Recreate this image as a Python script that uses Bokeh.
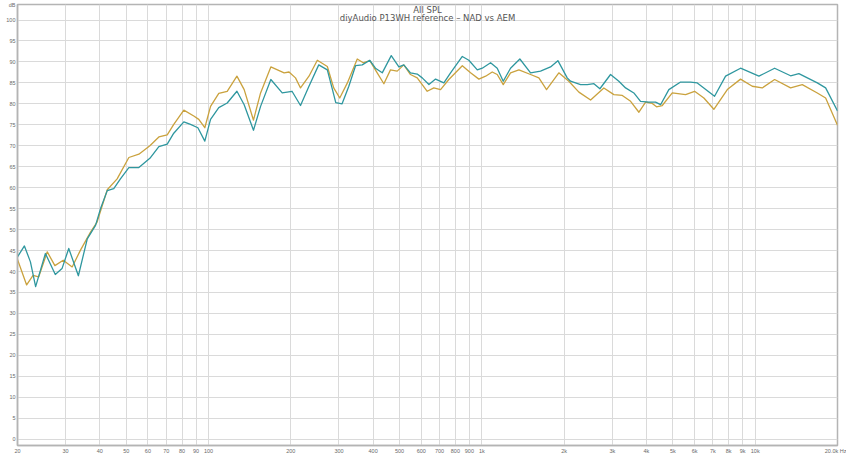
import math
from bokeh.plotting import figure
from bokeh.models import Range1d, FixedTicker, Label
from bokeh.embed import file_html
from bokeh.resources import INLINE

# ---- data ----
freq_nad = [20, 21.2, 22.3, 23.3, 25.3, 27.5, 29.1, 30.8, 33.4, 36.0, 38.6, 40.2, 42.6, 45.0, 47.6,
            51.1, 55.6, 61.0, 65.8, 70.6, 74.6, 81.2, 85.9, 91.4, 96.9, 101.7, 109, 117, 127, 135,
            146, 155, 169, 186, 202, 217, 233, 253, 272, 284, 292, 308, 326, 345, 365, 389, 408,
            432, 466, 497, 518, 548, 580, 605, 640, 677, 726, 768, 848, 896, 962, 1003, 1076,
            1138, 1197, 1273, 1377, 1507, 1639, 1783, 1897, 2052, 2110, 2296, 2430, 2570, 2702,
            2956, 3170, 3355, 3597, 3806, 4083, 4320, 4506, 4831, 5333, 5802, 6138, 7100, 7791,
            8838, 10316, 11776, 13470, 14444, 16874, 18098, 20000]
spl_nad = [43.5, 46.1, 42.3, 36.4, 44.3, 39.3, 40.7, 45.5, 39.0, 47.8, 51.0, 54.9, 59.3, 59.8, 62.1,
           64.8, 64.8, 67.0, 69.8, 70.4, 73.0, 75.7, 75.1, 74.3, 71.1, 76.3, 79.1, 80.2, 83.0, 79.8,
           73.7, 79.4, 85.8, 82.6, 83.0, 79.6, 84.2, 89.3, 88.1, 83.4, 80.3, 80.0, 84.2, 89.1, 89.3,
           90.4, 88.5, 87.4, 91.5, 88.8, 89.3, 87.4, 87.1, 86.2, 84.6, 85.9, 85.0, 87.4, 91.3, 90.4,
           88.1, 88.5, 89.8, 88.5, 85.4, 88.5, 90.7, 87.4, 87.8, 88.8, 90.3, 86.2, 85.4, 84.6, 84.6,
           84.8, 83.6, 87.0, 85.4, 83.8, 82.6, 80.6, 80.4, 80.4, 79.8, 83.4, 85.2, 85.2, 85.0, 81.8,
           86.6, 88.5, 86.6, 88.5, 86.7, 87.2, 85.0, 83.8, 78.3]

freq_aem = [20, 21.6, 22.8, 23.9, 25.7, 27.4, 29.4, 31.7, 34.0, 37.0, 39.1, 42.6, 46.3, 51.1, 55.6,
            61.0, 65.8, 70.6, 74.6, 81.2, 88.3, 92.1, 96.9, 101.7, 109, 117, 127, 135, 146, 155,
            169, 189, 197, 208, 217, 233, 250, 272, 287, 302, 322, 350, 368, 389, 414, 438, 463,
            490, 518, 548, 580, 631, 667, 706, 757, 848, 909, 975, 1032, 1091, 1138, 1197, 1273,
            1366, 1507, 1616, 1724, 1912, 2080, 2264, 2499, 2794, 3040, 3264, 3500, 3754, 3972,
            4202, 4355, 4570, 4972, 5562, 6000, 6488, 7058, 7906, 8838, 9755, 10610, 11776, 13470,
            14866, 16874, 18098, 20000]
spl_aem = [42.9, 36.8, 39.1, 38.7, 44.7, 41.4, 42.7, 41.1, 45.1, 49.4, 51.8, 59.5, 62.1, 67.2, 68.0,
           70.0, 72.1, 72.6, 75.1, 78.5, 77.1, 76.3, 74.3, 79.4, 82.5, 83.0, 86.6, 83.4, 76.1, 82.6,
           88.8, 87.4, 87.6, 86.2, 83.8, 86.6, 90.4, 88.9, 83.8, 81.4, 85.0, 90.7, 89.8, 90.3, 87.4,
           84.8, 88.1, 87.8, 89.3, 87.0, 86.2, 83.0, 83.8, 83.4, 85.8, 89.1, 87.4, 85.9, 86.6, 87.6,
           87.0, 84.6, 87.4, 88.1, 87.0, 86.2, 83.4, 87.4, 85.4, 82.8, 80.9, 83.8, 82.2, 82.0, 80.6,
           78.0, 80.4, 80.1, 79.3, 79.6, 82.6, 82.2, 83.0, 81.4, 78.7, 83.4, 85.9, 84.2, 83.8, 85.8,
           83.8, 84.6, 82.6, 81.4, 74.9]

x_ticks = [20, 30, 40, 50, 60, 70, 80, 90, 100, 200, 300, 400, 500, 600, 700, 800, 900,
           1000, 2000, 3000, 4000, 5000, 6000, 7000, 8000, 9000, 10000, 20000]
x_tick_labels = ["20", "30", "40", "50", "60", "70", "80", "90", "100", "200", "300", "400", "500",
                 "600", "700", "800", "900", "1k", "2k", "3k", "4k", "5k", "6k", "7k", "8k", "9k",
                 "10k", "20.0k Hz"]
y_ticks = list(range(0, 101, 5))

title_text = "All SPL"
subtitle_text = "diyAudio P13WH reference – NAD vs AEM"
unit_text = "dB"

X_START, X_END = 20, 20000
Y_START, Y_END = -1.5, 103.7

TEAL = "#2f979f"
GOLD = "#caa23e"
GRID = "#dadada"
FRAME = "#b4b4b4"
LABEL = "#6a6a6a"

p = figure(width=846, height=456, x_axis_type="log",
           x_range=Range1d(X_START, X_END), y_range=Range1d(Y_START, Y_END),
           output_backend="svg", toolbar_location=None,
           min_border_left=17, min_border_right=9, min_border_top=4, min_border_bottom=8,
           background_fill_color="white", border_fill_color="white")

p.outline_line_color = FRAME
p.outline_line_width = 1.5

xt = FixedTicker(ticks=x_ticks, minor_ticks=[])
yt_grid = FixedTicker(ticks=y_ticks, minor_ticks=[])
yt_axis = FixedTicker(ticks=y_ticks + [Y_END], minor_ticks=[])
p.xaxis.ticker = xt
p.yaxis.ticker = yt_axis
p.xgrid.ticker = xt
p.ygrid.ticker = yt_grid
p.xaxis.major_label_overrides = {t: l for t, l in zip(x_ticks, x_tick_labels)}
y_over = {t: str(t) for t in y_ticks}
y_over[Y_END] = unit_text
p.yaxis.major_label_overrides = y_over

for ax in (p.xaxis[0], p.yaxis[0]):
    ax.axis_label = None
    ax.axis_label_standoff = 0
    ax.axis_line_color = FRAME
    ax.axis_line_width = 1.5
    ax.major_tick_in = 0
    ax.major_tick_out = 0
    ax.minor_tick_in = 0
    ax.minor_tick_out = 0
    ax.major_label_text_font = "Liberation Sans"
    ax.major_label_text_font_size = "5.5px"
    ax.major_label_text_color = LABEL
    ax.major_label_standoff = 2

for g in (p.xgrid[0], p.ygrid[0]):
    g.grid_line_color = GRID
    g.grid_line_width = 1

p.line(freq_aem, spl_aem, line_color=GOLD, line_width=1.3, line_join="round")
p.line(freq_nad, spl_nad, line_color=TEAL, line_width=1.3, line_join="round")

x_center = math.sqrt(X_START * X_END)
p.add_layout(Label(x=x_center, y=102.4, text=title_text, text_align="center",
                   text_baseline="middle", text_font="DejaVu Sans", text_font_size="8.5px",
                   text_color="#555555"))
p.add_layout(Label(x=x_center, y=100.5, text=subtitle_text, text_align="center",
                   text_baseline="middle", text_font="DejaVu Sans", text_font_size="8.5px",
                   text_color="#555555"))

open("out.html", "w").write(file_html(p, INLINE))
